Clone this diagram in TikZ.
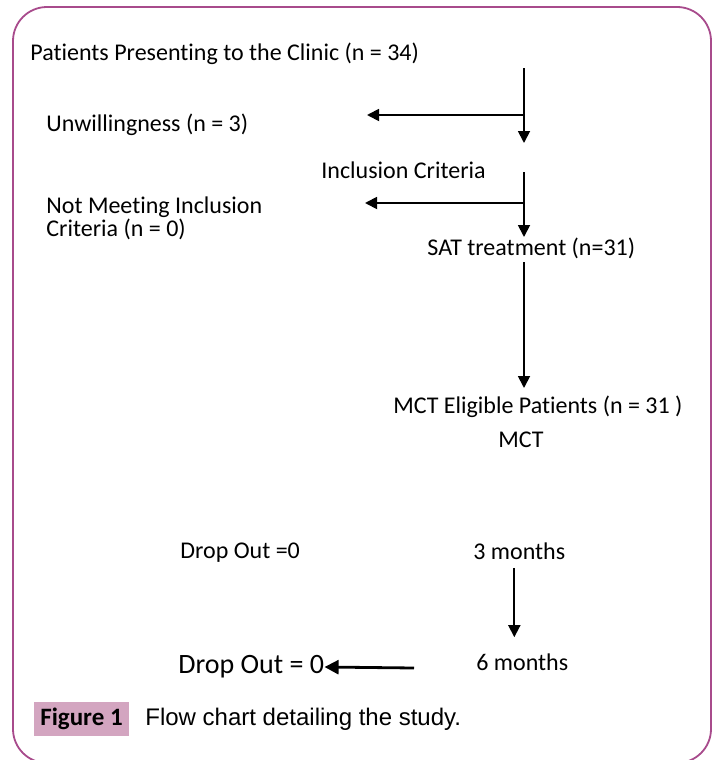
\documentclass[tikz,border=0pt]{standalone}
\usepackage{fontspec}
\setmainfont{Carlito}[Ligatures=NoCommon]
\newfontfamily\capfont{Liberation Sans}
\usetikzlibrary{arrows.meta}
\definecolor{frame}{HTML}{A84B8C}
\definecolor{capbox}{HTML}{D3A5C0}
\tikzset{
  lbl/.style={anchor=west, inner sep=0pt, align=left,
    font=\fontsize{12}{11.5}\selectfont},
  flow/.style={line width=0.9pt, -{Triangle[length=6pt,width=6pt]}},
  flowbig/.style={line width=1.4pt, -{Triangle[length=7pt,width=7pt]}}
}

\begin{document}
\begin{tikzpicture}[x=0.5pt,y=-0.5pt]
  \useasboundingbox (0,0) rectangle (717,760);
  \draw[frame, line width=0.9pt, rounded corners=17pt] (13,7) rectangle (711,763);

  % labels
  \node[lbl] (pat) at (30,54) {Patients Presenting to the Clinic (n = 34)};
  \node[lbl] (unw) at (46,125) {Unwillingness (n = 3)};
  \node[lbl] (inc) at (321,170) {Inclusion Criteria};
  \node[lbl] (notm) at (46,218) {Not Meeting Inclusion\\Criteria (n = 0)};
  \node[lbl] (sat) at (427,248) {SAT treatment (n=31)};
  \node[lbl] (elig) at (393,407) {MCT Eligible Patients (n = 31 )};
  \node[lbl] (mct) at (498,440) {MCT};
  \node[lbl] (drop1) at (180,553) {Drop Out =0};
  \node[lbl] (m3) at (473,551) {3 months};
  \node[lbl] (m6) at (476,662) {6 months};
  \node[lbl, font=\fontsize{14}{14}\selectfont] (drop2) at (178,667) {Drop Out = 0};

  % branch points
  \coordinate (t1) at (524,68);
  \coordinate (j1) at (524,115);
  \coordinate (b1) at (524,143);
  \coordinate (e1) at (367,115);
  \coordinate (t2) at (524,172);
  \coordinate (j2) at (524,203);
  \coordinate (b2) at (524,237);
  \coordinate (e2) at (365,203);
  \coordinate (t3) at (524,262);
  \coordinate (b3) at (524,388);
  \coordinate (s6) at (414,668);

  \draw[flow] (t1) -- (b1);
  \draw[flow] (j1) -- (e1);
  \draw[flow] (t2) -- (b2);
  \draw[flow] (j2) -- (e2);
  \draw[flow] (t3) -- (b3);
  \draw[flow, shorten <=4pt, shorten >=8pt] ([xshift=-2.5pt]m3.south) -- ([xshift=-2.5pt]m3.south |- m6.north);
  \draw[flowbig] (s6) -- (drop2.east);

  % caption
  \node[fill=capbox, inner sep=0pt, minimum width=47.5pt, minimum height=17pt,
    font=\fontsize{12.5}{12.5}\selectfont\bfseries] (fig) at (81.5,719) {Figure 1};
  \node[anchor=west, inner sep=0pt, font=\capfont\fontsize{12}{12}\selectfont]
    (cap) at (145,719) {Flow chart detailing the study.};
\end{tikzpicture}
\end{document}
